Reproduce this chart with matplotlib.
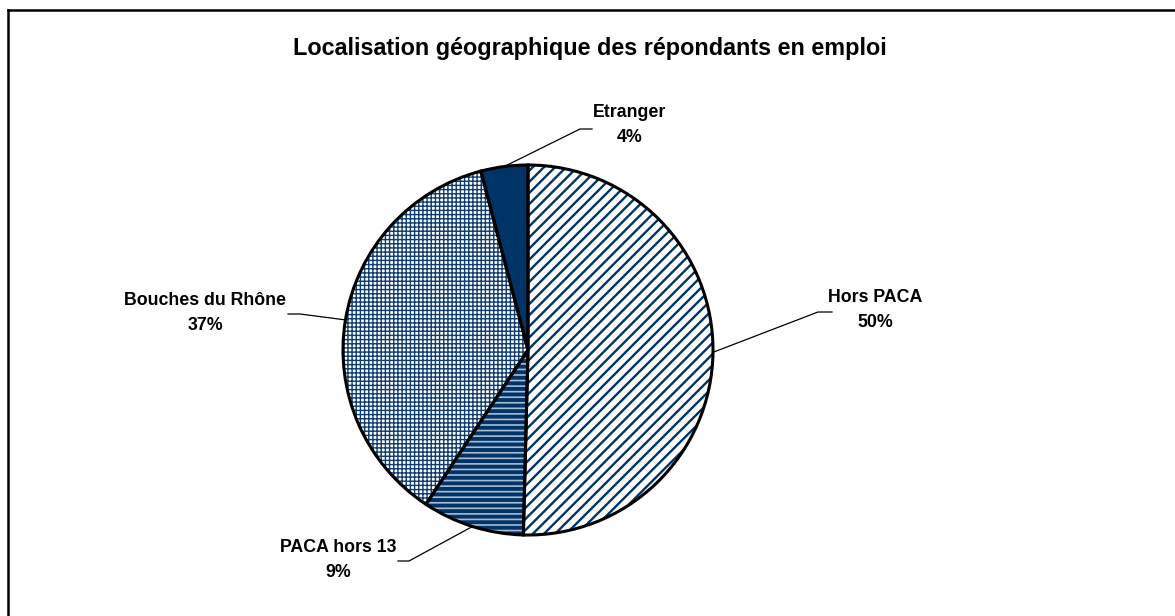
import numpy as np
import matplotlib.pyplot as plt
from matplotlib.lines import Line2D

# données
labels = ['Hors PACA', 'PACA hors 13', 'Bouches du Rhône', 'Etranger']
values = [50.4, 8.9, 36.6, 4.1]

navy = '#003366'
faces = ['white', navy, 'white', navy]
hatch_cols = [navy, '#a9bcd4', '#0f3d6e', navy]
hatches = ['///', '---', '++++', None]
hatch_lw = [1.7, 1.2, 1.0, 1.0]

plt.rcParams['font.family'] = ['Liberation Sans', 'DejaVu Sans']
plt.rcParams['hatch.linewidth'] = 1.6

W, H = 1175, 616
cx, cy, R = 528, 350, 185

fig = plt.figure(figsize=(W / 100, H / 100), dpi=100)
ax = fig.add_axes([0, 0, 1, 1])

# remplissage + hachures
wedges, _ = ax.pie(values, startangle=90, counterclock=False, radius=1,
                   wedgeprops=dict(linewidth=0))
for w, fc, hc, h, lw in zip(wedges, faces, hatch_cols, hatches, hatch_lw):
    w.set_facecolor(fc)
    w.set_edgecolor(hc)
    if h:
        w.set_hatch(h)
        if hasattr(w, 'set_hatch_linewidth'):
            w.set_hatch_linewidth(lw)
        else:
            w._hatch_linewidth = lw

# contours
outl, _ = ax.pie(values, startangle=90, counterclock=False, radius=1,
                 wedgeprops=dict(fill=False, edgecolor='black', linewidth=2.2))

ax.set_xlim(-cx / R, (W - cx) / R)
ax.set_ylim(-(H - cy) / R, cy / R)
ax.set_aspect('equal')
ax.axis('off')


def px(x, y):
    return (x - cx) / R, (cy - y) / R


# étiquettes et lignes de rappel (positions en pixels de la référence)
label_pos = [(875, 310), (338, 560), (205, 313), (630, 125)]
elbows = [((832, 312), (818, 312)), ((409, 561), (398, 561)),
          ((288, 314), (300, 314)), ((580, 129), (592, 129))]

total = sum(values)
start = 90.0
for lab, v, pos, (e1, e2) in zip(labels, values, label_pos, elbows):
    mid = start - 360 * v / total / 2
    start -= 360 * v / total
    ex, ey = np.cos(np.radians(mid)), np.sin(np.radians(mid))
    p1 = px(*e1)
    p2 = px(*e2)
    if abs(p1[0] - ex) < abs(p2[0] - ex):
        near, far = p1, p2
    else:
        near, far = p2, p1
    ax.add_line(Line2D([ex, near[0], far[0]], [ey, near[1], far[1]],
                       color='black', linewidth=0.9))
    tx, ty = px(*pos)
    ax.text(tx, ty, f'{lab}\n{v:.0f}%', ha='center', va='center',
            fontsize=12.8, fontweight='bold', linespacing=1.55)

fig.text(590 / W, 1 - 48 / H, 'Localisation géographique des répondants en emploi',
         ha='center', va='center', fontsize=16.8, fontweight='bold')

# cadre (seuls les bords haut et gauche visibles)
fig.add_artist(Line2D([7.5 / W, 7.5 / W], [0, 1 - 10 / H], color='black', linewidth=1.8,
                      transform=fig.transFigure))
fig.add_artist(Line2D([7.5 / W, 1], [1 - 10 / H, 1 - 10 / H], color='black', linewidth=1.8,
                      transform=fig.transFigure))

fig.savefig('out.png', dpi=100)
